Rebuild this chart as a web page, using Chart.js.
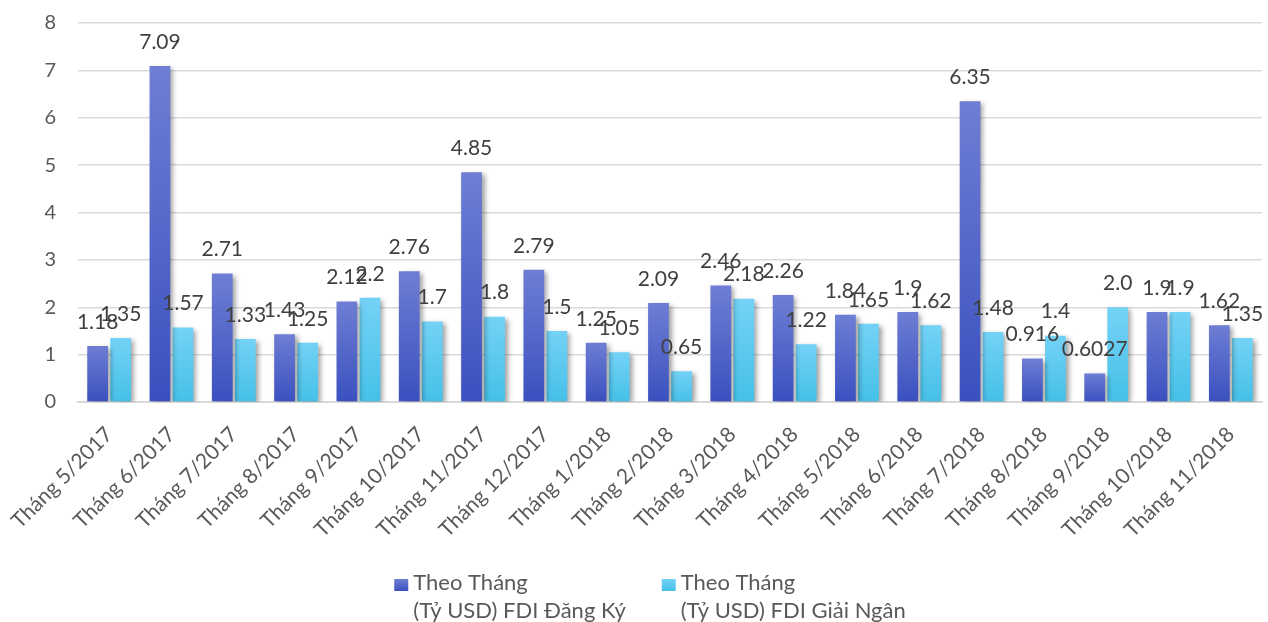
<!DOCTYPE html>
<html lang="vi">
<head>
<meta charset="utf-8">
<title>FDI theo tháng</title>
<script src="https://cdn.jsdelivr.net/npm/chart.js@4.4.1/dist/chart.umd.min.js"></script>
<style>
  html, body { margin: 0; padding: 0; background: #ffffff; overflow: hidden; }
  #wrap { position: relative; width: 1268px; height: 622px; }
  canvas { display: block; }
</style>
</head>
<body>
<div id="wrap"><canvas id="fdi" width="1268" height="622"></canvas></div>
<script>
// Months on the category axis
const categories = [
  'Tháng 5/2017', 'Tháng 6/2017', 'Tháng 7/2017', 'Tháng 8/2017', 'Tháng 9/2017',
  'Tháng 10/2017', 'Tháng 11/2017', 'Tháng 12/2017', 'Tháng 1/2018', 'Tháng 2/2018',
  'Tháng 3/2018', 'Tháng 4/2018', 'Tháng 5/2018', 'Tháng 6/2018', 'Tháng 7/2018',
  'Tháng 8/2018', 'Tháng 9/2018', 'Tháng 10/2018', 'Tháng 11/2018'
];

// Registered FDI per month (billion USD), written as printed above each bar
const registeredText = [
  '1.18', '7.09', '2.71', '1.43', '2.12', '2.76', '4.85', '2.79', '1.25', '2.09',
  '2.46', '2.26', '1.84', '1.9', '6.35', '0.916', '0.6027', '1.9', '1.62'
];

// Disbursed FDI per month (billion USD)
const disbursedText = [
  '1.35', '1.57', '1.33', '1.25', '2.2', '1.7', '1.8', '1.5', '1.05', '0.65',
  '2.18', '1.22', '1.65', '1.62', '1.48', '1.4', '2.0', '1.9', '1.35'
];

const registeredValues = registeredText.map(Number);
const disbursedValues = disbursedText.map(Number);

// Value-axis ticks
const yTicks = [0, 1, 2, 3, 4, 5, 6, 7, 8];

// Legend captions (two lines each)
const seriesNames = [
  ['Theo Tháng', '(Tỷ USD) FDI Đăng Ký'],
  ['Theo Tháng', '(Tỷ USD) FDI Giải Ngân']
];

const FONT = 'Lato, "Open Sans", "DejaVu Sans", sans-serif';
const SERIES_COLORS = [['#6e7ed4', '#3a50bf'], ['#74d2f6', '#45c0e8']];

// Vertical gradient running over each individual bar
function barGradient(top, bottom) {
  return function (ctx) {
    const chart = ctx.chart;
    const area = chart.chartArea;
    if (!area || ctx.type !== 'data') return bottom;
    const yScale = chart.scales.y;
    const yTop = yScale.getPixelForValue(ctx.parsed ? ctx.parsed.y : ctx.raw);
    const yBase = yScale.getPixelForValue(0);
    if (!isFinite(yTop) || !isFinite(yBase) || yTop === yBase) return bottom;
    const g = chart.ctx.createLinearGradient(0, yTop, 0, yBase);
    g.addColorStop(0, top);
    g.addColorStop(1, bottom);
    return g;
  };
}

// Soft drop shadow under the bars
const barShadow = {
  id: 'barShadow',
  beforeDatasetsDraw(chart) {
    const c = chart.ctx;
    c.save();
    c.shadowColor = 'rgba(0,0,0,0.38)';
    c.shadowBlur = 5;
    c.shadowOffsetX = 3;
    c.shadowOffsetY = 2;
  },
  afterDatasetsDraw(chart) {
    chart.ctx.restore();
  }
};

// Value captions above the bars
const valueCaptions = {
  id: 'valueCaptions',
  afterDatasetsDraw(chart) {
    const c = chart.ctx;
    const texts = [registeredText, disbursedText];
    c.save();
    c.font = '21px ' + FONT;
    c.fillStyle = '#404040';
    c.textAlign = 'center';
    c.textBaseline = 'middle';
    chart.data.datasets.forEach((ds, di) => {
      const meta = chart.getDatasetMeta(di);
      meta.data.forEach((bar, i) => {
        c.fillText(texts[di][i], bar.x, bar.y - 24);
      });
    });
    c.restore();
  }
};

// Two-line legend drawn beneath the month labels
const twoLineLegend = {
  id: 'twoLineLegend',
  afterDraw(chart, args, opts) {
    const c = chart.ctx;
    const boxW = 14, boxH = 12, gap = 5, spacing = 36, lineH = 28;
    c.save();
    c.font = opts.fontSize + 'px ' + FONT;
    c.textBaseline = 'middle';
    c.textAlign = 'left';
    const widths = chart.data.datasets.map((ds, i) =>
      boxW + gap + Math.max(...seriesNames[i].map(t => c.measureText(t).width)));
    const total = widths.reduce((a, b) => a + b, 0) + spacing * (widths.length - 1);
    let x = opts.centerX - total / 2;
    const y = opts.top;
    chart.data.datasets.forEach((ds, i) => {
      const by = y - boxH / 2 + 2;
      const g = c.createLinearGradient(0, by, 0, by + boxH);
      g.addColorStop(0, SERIES_COLORS[i][0]);
      g.addColorStop(1, SERIES_COLORS[i][1]);
      c.fillStyle = g;
      c.fillRect(x, by, boxW, boxH);
      c.fillStyle = '#595959';
      seriesNames[i].forEach((t, k) => c.fillText(t, x + boxW + gap, y + k * lineH));
      x += widths[i] + spacing;
    });
    c.restore();
  }
};

new Chart(document.getElementById('fdi'), {
  type: 'bar',
  data: {
    labels: categories,
    datasets: [
      {
        label: seriesNames[0].join(' '),
        data: registeredValues,
        backgroundColor: barGradient(SERIES_COLORS[0][0], SERIES_COLORS[0][1]),
        categoryPercentage: 0.74,
        barPercentage: 0.9
      },
      {
        label: seriesNames[1].join(' '),
        data: disbursedValues,
        backgroundColor: barGradient(SERIES_COLORS[1][0], SERIES_COLORS[1][1]),
        categoryPercentage: 0.74,
        barPercentage: 0.9
      }
    ]
  },
  options: {
    responsive: false,
    animation: false,
    devicePixelRatio: 1,
    layout: { padding: { top: 23, right: 6, bottom: 80, left: 0 } },
    scales: {
      x: {
        grid: { display: false },
        border: { display: true, color: '#d9d9d9', width: 2 },
        ticks: {
          color: '#595959',
          font: { family: FONT, size: 21 },
          minRotation: 45,
          maxRotation: 45,
          autoSkip: false,
          padding: 12
        },
        afterFit(scale) { scale.height = 140; }
      },
      y: {
        min: 0,
        max: 8,
        afterBuildTicks(scale) { scale.ticks = yTicks.map(v => ({ value: v })); },
        grid: { color: '#d9d9d9', lineWidth: 1.5, drawTicks: false },
        border: { display: false },
        ticks: {
          color: '#595959',
          font: { family: FONT, size: 20 },
          padding: 22
        },
        afterFit(scale) {
          scale.width = 78;
          scale.paddingTop = 0;
          scale.paddingBottom = 0;
        }
      }
    },
    plugins: {
      title: { display: false },
      tooltip: { enabled: false },
      legend: { display: false },
      twoLineLegend: { fontSize: 22, centerX: 650, top: 583 }
    }
  },
  plugins: [barShadow, valueCaptions, twoLineLegend]
});
</script>
</body>
</html>
